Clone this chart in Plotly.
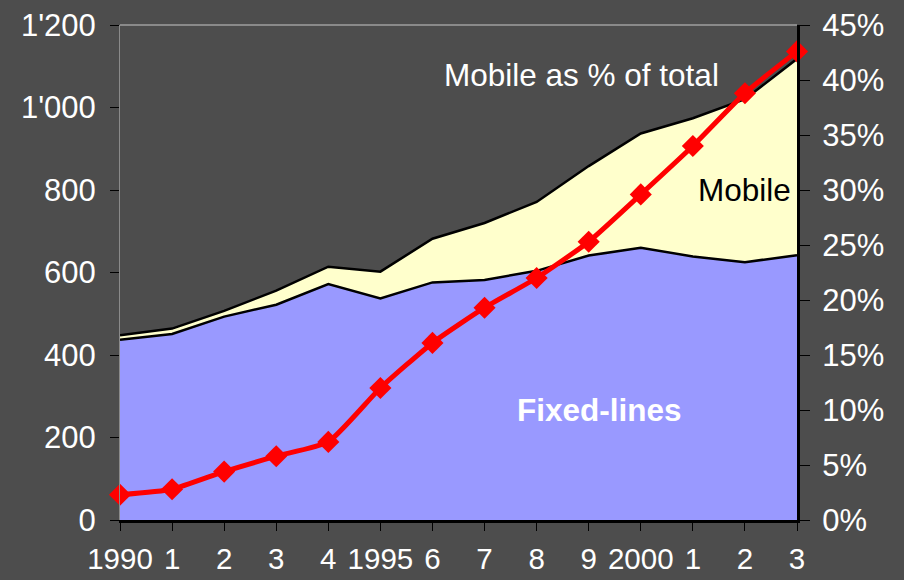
import plotly.graph_objects as go

years = list(range(1990, 2004))
year_labels = ["1990", "1", "2", "3", "4", "1995", "6", "7", "8", "9", "2000", "1", "2", "3"]
fixed_lines = [437, 451, 493, 522, 572, 537, 576, 582, 604, 641, 660, 639, 625, 642]
total_lines = [448, 464, 507, 556, 614, 602, 682, 720, 771, 858, 937, 974, 1020, 1118]
mobile_share = [2.3, 2.8, 4.4, 5.8, 7.1, 12.0, 16.1, 19.3, 22.0, 25.3, 29.6, 34.0, 38.8, 42.6]
left_ticks = [0, 200, 400, 600, 800, 1000, 1200]
left_tick_text = ["0", "200", "400", "600", "800", "1'000", "1'200"]
right_ticks = [0, 5, 10, 15, 20, 25, 30, 35, 40, 45]
right_tick_text = ["0%", "5%", "10%", "15%", "20%", "25%", "30%", "35%", "40%", "45%"]

BG = "#4d4d4d"
FONT = "Liberation Sans, Arial, sans-serif"
TICK = 31

fig = go.Figure()
fig.add_trace(go.Scatter(
    x=years, y=fixed_lines, mode="lines", fill="tozeroy",
    fillcolor="#9999ff", line=dict(color="black", width=2.5),
    hoverinfo="skip", showlegend=False))
fig.add_trace(go.Scatter(
    x=years, y=total_lines, mode="lines", fill="tonexty",
    fillcolor="#ffffcc", line=dict(color="black", width=2.5),
    hoverinfo="skip", showlegend=False))
fig.add_trace(go.Scatter(
    x=years, y=mobile_share, yaxis="y2", mode="lines+markers",
    line=dict(color="#ff0000", width=5, shape="spline", smoothing=0.5),
    marker=dict(symbol="diamond", size=17, color="#ff0000"),
    cliponaxis=False, showlegend=False))

fig.update_layout(
    width=904, height=580,
    margin=dict(l=120, r=107, t=25, b=60),
    paper_bgcolor=BG, plot_bgcolor=BG,
    font=dict(family=FONT, color="white", size=TICK),
    showlegend=False,
    xaxis=dict(
        range=[1990, 2003], tickvals=years, ticktext=year_labels,
        showgrid=False, zeroline=False, automargin=False,
        showline=True, linecolor="black", linewidth=3,
        ticks="outside", ticklen=8, tickcolor="black", tickwidth=1,
        ticklabelstandoff=3,
        tickfont=dict(size=29.5, color="white", family=FONT),
    ),
    yaxis=dict(
        range=[0, 1200], tickvals=left_ticks, ticktext=left_tick_text,
        showgrid=False, zeroline=False, automargin=False,
        showline=True, linecolor="#8a8a8a", linewidth=1,
        ticks="outside", ticklen=9, tickcolor="black", tickwidth=1,
        ticklabelstandoff=8,
        tickfont=dict(size=TICK, color="white", family=FONT),
    ),
    yaxis2=dict(
        range=[0, 45], tickvals=right_ticks, ticktext=right_tick_text,
        overlaying="y", side="right",
        showgrid=False, zeroline=False, automargin=False,
        showline=True, linecolor="black", linewidth=3,
        ticks="outside", ticklen=10, tickcolor="black", tickwidth=1,
        ticklabelstandoff=6,
        tickfont=dict(size=TICK, color="white", family=FONT),
    ),
    shapes=[dict(type="line", xref="paper", yref="paper", x0=0, x1=1, y0=1, y1=1,
                 line=dict(color="#8a8a8a", width=2), layer="below")],
    annotations=[
        dict(text="Mobile as % of total", xref="paper", yref="paper", x=0.681, y=0.899,
             xanchor="center", yanchor="middle",
             showarrow=False, font=dict(size=31.5, color="white", family=FONT)),
        dict(text="Mobile", xref="paper", yref="paper", x=0.922, y=0.667,
             xanchor="center", yanchor="middle",
             showarrow=False, font=dict(size=31.5, color="black", family=FONT)),
        dict(text="<b>Fixed-lines</b>", xref="paper", yref="paper", x=0.709, y=0.222,
             xanchor="center", yanchor="middle",
             showarrow=False, font=dict(size=31.5, color="white", family=FONT)),
    ],
)

fig.write_html(
    "out.html",
    config={"displayModeBar": False},
    post_script="document.body.style.margin='0';document.body.style.overflow='hidden';document.body.style.background='#4d4d4d';",
)
